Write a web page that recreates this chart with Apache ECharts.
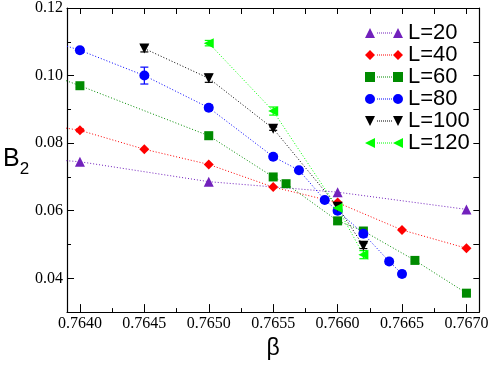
<!DOCTYPE html>
<html>
<head>
<meta charset="utf-8">
<script src="https://cdn.jsdelivr.net/npm/echarts@6/dist/echarts.min.js"></script>
<style>
  html, body { margin: 0; padding: 0; background: #fff; }
  #chart { width: 491px; height: 365px; }
</style>
</head>
<body>
<div id="chart"></div>
<script>
const chart = echarts.init(document.getElementById('chart'));

// tick values
const xMajorTicks = [0.7640, 0.7645, 0.7650, 0.7655, 0.7660, 0.7665, 0.7670];
const xMinorTicks = [0.76425, 0.76475, 0.76525, 0.76575, 0.76625, 0.76675];
const yMajorTicks = [0.04, 0.06, 0.08, 0.10, 0.12];
const yMinorTicks = [0.05, 0.07, 0.09, 0.11];

// data (first points at 0.7635 fall left of the frame and get clipped)
const betaL20 = [0.7635, 0.7640, 0.7650, 0.7660, 0.7670];
const b2L20 = [0.0760, 0.0745, 0.0686, 0.0655, 0.0604];
const errL20 = [0, 0, 0, 0, 0];

const betaL40 = [0.7635, 0.7640, 0.7645, 0.7650, 0.7655, 0.7660, 0.7665, 0.7670];
const b2L40 = [0.0868, 0.0838, 0.0782, 0.0737, 0.0670, 0.0624, 0.0543, 0.0489];
const errL40 = [0, 0.0004, 0, 0, 0, 0, 0, 0];

const betaL60 = [0.7635, 0.7640, 0.7650, 0.7655, 0.7656, 0.7660, 0.7662, 0.7666, 0.7670];
const b2L60 = [0.1040, 0.0970, 0.0822, 0.0700, 0.0680, 0.0570, 0.0540, 0.0453, 0.0356];
const errL60 = [0, 0.0005, 0.0010, 0.0005, 0.0008, 0.0008, 0.0008, 0.0004, 0.0005];

const betaL80 = [0.7635, 0.7640, 0.7645, 0.7650, 0.7655, 0.7657, 0.7659, 0.7660, 0.7662, 0.7664, 0.7665];
const b2L80 = [0.1135, 0.1075, 0.1000, 0.0905, 0.0760, 0.0720, 0.0632, 0.0600, 0.0532, 0.0450, 0.0413];
const errL80 = [0, 0.0008, 0.0025, 0.0008, 0.0005, 0.0005, 0.0005, 0.0008, 0.0008, 0.0008, 0.0008];

const betaL100 = [0.7645, 0.7650, 0.7655, 0.7660, 0.7662];
const b2L100 = [0.1080, 0.0992, 0.0843, 0.0612, 0.0496];
const errL100 = [0.0010, 0.0012, 0.0005, 0.0008, 0.0008];

const betaL120 = [0.7650, 0.7655, 0.7660, 0.7662];
const b2L120 = [0.1096, 0.0895, 0.0608, 0.0470];
const errL120 = [0.0008, 0.0012, 0.0015, 0.0012];

const dots = (() => {
  let d = '';
  for (let x = 12; x < 27; x += 2) d += `M${x},4.6 h1 v0.8 h-1 Z `;
  return d;
})();

const sets = [
  { name: 'L=20', beta: betaL20, b2: b2L20, err: errL20, color: '#7221bc',
    symbol: 'triangle', size: 10,
    icon: 'M0,10 L5,0 L10,10 Z M28,10 L33,0 L38,10 Z ' },
  { name: 'L=40', beta: betaL40, b2: b2L40, err: errL40, color: '#ff0000',
    symbol: 'diamond', size: 10,
    icon: 'M0,5 L5,0 L10,5 L5,10 Z M28,5 L33,0 L38,5 L33,10 Z ' },
  { name: 'L=60', beta: betaL60, b2: b2L60, err: errL60, color: '#008b00',
    symbol: 'rect', size: 9,
    icon: 'M0,0 h10 v10 h-10 Z M28,0 h10 v10 h-10 Z ' },
  { name: 'L=80', beta: betaL80, b2: b2L80, err: errL80, color: '#0000ff',
    symbol: 'circle', size: 10,
    icon: 'M0,5 A5,5 0 1 1 10,5 A5,5 0 1 1 0,5 Z M28,5 A5,5 0 1 1 38,5 A5,5 0 1 1 28,5 Z ' },
  { name: 'L=100', beta: betaL100, b2: b2L100, err: errL100, color: '#000000',
    symbol: 'path://M0,0 L10,0 L5,10 Z', size: 10,
    icon: 'M0,0 L10,0 L5,10 Z M28,0 L38,0 L33,10 Z ' },
  { name: 'L=120', beta: betaL120, b2: b2L120, err: errL120, color: '#00ff00',
    symbol: 'path://M0,5 L10,0 L10,10 Z', size: 10,
    icon: 'M0,5 L10,0 L10,10 Z M28,5 L38,0 L38,10 Z ' }
];

const serifLabel = { fontFamily: "'Liberation Serif', 'DejaVu Serif', serif", fontSize: 16, color: '#000' };
const sansFont = "'Liberation Sans', Arial, sans-serif";
const axisLine = { show: true, lineStyle: { color: '#000', width: 1.2 } };

function errorBars(s) {
  return {
    type: 'custom',
    xAxisIndex: 0,
    yAxisIndex: 0,
    silent: true,
    clip: true,
    encode: { x: 0, y: [1, 2] },
    data: s.beta
      .map((b, i) => [b, s.b2[i] - s.err[i], s.b2[i] + s.err[i], s.err[i]])
      .filter((d) => d[3] > 0),
    renderItem: (params, api) => {
      const top = api.coord([api.value(0), api.value(2)]);
      const bot = api.coord([api.value(0), api.value(1)]);
      const w = 4;
      const style = { stroke: s.color, lineWidth: 1.2 };
      return {
        type: 'group',
        children: [
          { type: 'line', shape: { x1: top[0], y1: top[1], x2: bot[0], y2: bot[1] }, style },
          { type: 'line', shape: { x1: top[0] - w, y1: top[1], x2: top[0] + w, y2: top[1] }, style },
          { type: 'line', shape: { x1: bot[0] - w, y1: bot[1], x2: bot[0] + w, y2: bot[1] }, style }
        ]
      };
    }
  };
}

const series = [];
sets.forEach((s) => {
  series.push(errorBars(s));
  series.push({
    name: s.name,
    type: 'line',
    xAxisIndex: 0,
    yAxisIndex: 0,
    clip: true,
    data: s.beta.map((b, i) => [b, s.b2[i]]),
    symbol: s.symbol,
    symbolSize: s.size,
    showAllSymbol: true,
    itemStyle: { color: s.color },
    lineStyle: { color: s.color, width: 1, type: [1, 2] },
    emphasis: { disabled: true }
  });
});

chart.setOption({
  animation: false,
  grid: { left: 52.5, right: 11, top: 5.5, bottom: 49.5 },
  legend: {
    orient: 'vertical',
    left: 360,
    top: 17,
    itemWidth: 38,
    itemHeight: 10,
    itemGap: 0,
    symbolKeepAspect: false,
    textStyle: { fontFamily: sansFont, fontSize: 22, color: '#000', lineHeight: 21, padding: [0, 0, 0, 0] },
    data: sets.map((s) => ({ name: s.name, icon: 'path://' + s.icon + dots }))
  },
  xAxis: [
    {
      type: 'value', position: 'bottom', min: 0.7639, max: 0.7671,
      name: 'β', nameLocation: 'middle', nameGap: 24,
      nameTextStyle: { fontFamily: sansFont, fontSize: 23, color: '#000' },
      axisLine,
      axisTick: { show: true, inside: true, length: 8, customValues: xMajorTicks, lineStyle: { color: '#000', width: 1 } },
      axisLabel: { customValues: xMajorTicks, formatter: (v) => v.toFixed(4), margin: 4, ...serifLabel },
      splitLine: { show: false }
    },
    {
      type: 'value', position: 'bottom', min: 0.7639, max: 0.7671,
      axisLine: { show: false },
      axisTick: { show: true, inside: true, length: 4, customValues: xMinorTicks, lineStyle: { color: '#000', width: 1 } },
      axisLabel: { show: false },
      splitLine: { show: false }
    },
    {
      type: 'value', position: 'top', min: 0.7639, max: 0.7671,
      axisLine,
      axisTick: { show: true, inside: true, length: 6, customValues: xMajorTicks.concat(xMinorTicks), lineStyle: { color: '#000', width: 1 } },
      axisLabel: { show: false },
      splitLine: { show: false }
    }
  ],
  yAxis: [
    {
      type: 'value', position: 'left', min: 0.03, max: 0.12,
      name: '{b|B}{s|2}', nameLocation: 'middle', nameRotate: 0, nameGap: 20,
      nameTextStyle: {
        rich: {
          b: { fontFamily: sansFont, fontSize: 25, color: '#000', verticalAlign: 'top', lineHeight: 26 },
          s: { fontFamily: sansFont, fontSize: 17, color: '#000', verticalAlign: 'top', lineHeight: 17, padding: [14, 0, 0, 0] }
        }
      },
      axisLine,
      axisTick: { show: true, inside: true, length: 7, customValues: yMajorTicks, lineStyle: { color: '#000', width: 1 } },
      axisLabel: { customValues: yMajorTicks, formatter: (v) => v.toFixed(2), margin: 4, ...serifLabel },
      splitLine: { show: false }
    },
    {
      type: 'value', position: 'left', min: 0.03, max: 0.12,
      axisLine: { show: false },
      axisTick: { show: true, inside: true, length: 4, customValues: yMinorTicks, lineStyle: { color: '#000', width: 1 } },
      axisLabel: { show: false },
      splitLine: { show: false }
    },
    {
      type: 'value', position: 'right', min: 0.03, max: 0.12,
      axisLine,
      axisTick: { show: true, inside: true, length: 6, customValues: yMajorTicks.concat(yMinorTicks), lineStyle: { color: '#000', width: 1 } },
      axisLabel: { show: false },
      splitLine: { show: false }
    }
  ],
  series
});

window.addEventListener('resize', () => {
  chart.resize();
});
</script>
</body>
</html>
